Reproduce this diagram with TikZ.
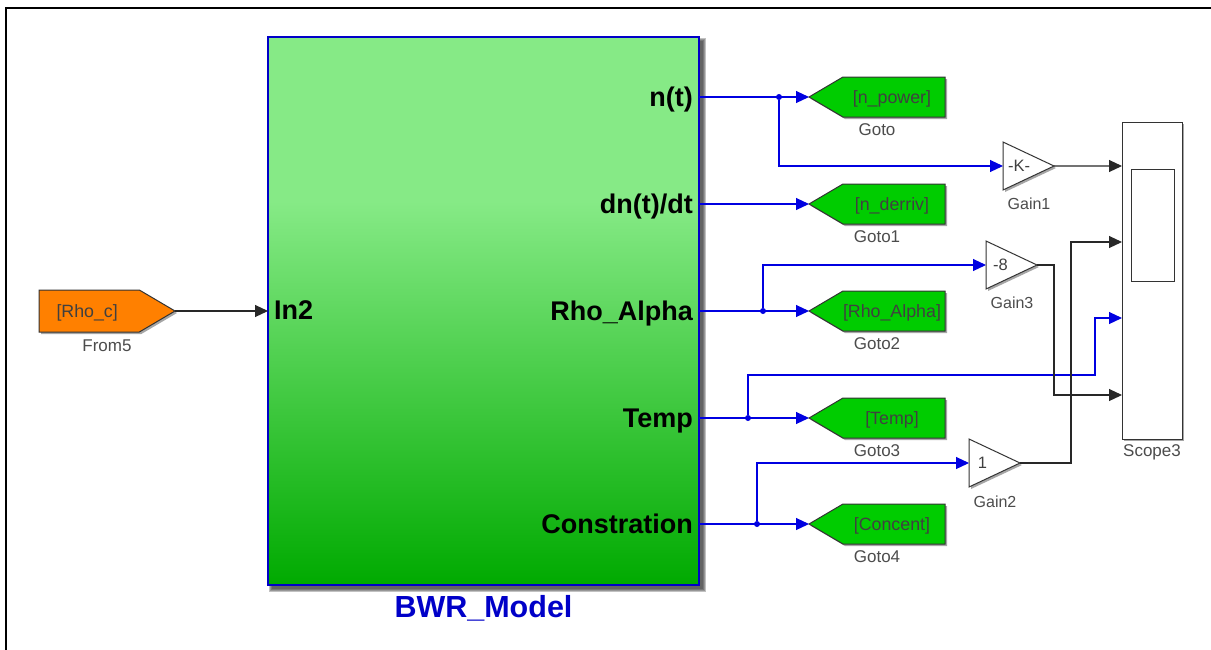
\documentclass[tikz,border=0pt]{standalone}
\usepackage{fontspec}
\setmainfont{Liberation Sans}
\usepackage{xcolor}
\usetikzlibrary{shapes.geometric,shapes.symbols,shadows,arrows.meta}
\definecolor{gotogreen}{RGB}{0,204,0}
\definecolor{fromorange}{RGB}{255,128,0}
\definecolor{linkblue}{RGB}{0,0,225}
\definecolor{namedblue}{RGB}{0,0,200}
\definecolor{linkgray}{RGB}{40,40,40}
\definecolor{modellight}{RGB}{134,234,134}
\definecolor{modeldark}{RGB}{0,170,0}
\pgfdeclareverticalshading{modelfade}{100bp}{color(0bp)=(modeldark); color(25bp)=(modeldark); color(60bp)=(modellight); color(100bp)=(modellight)}
\tikzset{
    softshadow/.style={drop shadow={shadow xshift=2pt,shadow yshift=-2pt,opacity=.35,fill=black}},
    tagbox/.style={signal,signal to=west,signal pointer angle=61,draw=black!80,line width=1pt,fill=gotogreen,
        minimum width=136pt,minimum height=40pt,inner sep=0pt,outer sep=0pt,anchor=west,softshadow,
        font=\fontsize{17.8}{20}\selectfont,text=black!75,text height=15pt,text depth=3pt,
        execute at begin node={\hspace*{-4pt}}},
    fromtag/.style={tagbox,signal to=east,anchor=east,fill=fromorange,minimum height=42pt},
    gainbox/.style={isosceles triangle,isosceles triangle apex angle=50,isosceles triangle stretches,draw=black!80,line width=1pt,
        fill=white,minimum width=48pt,minimum height=51pt,inner sep=0pt,outer sep=0pt,anchor=west,softshadow,
        font=\fontsize{16.5}{18}\selectfont,text=black!75},
    blocklabel/.style={font=\fontsize{17}{19}\selectfont,text=black!70,inner sep=0pt},
    gainlabel/.style={blocklabel,font=\fontsize{16}{18}\selectfont},
    portlabel/.style={font=\bfseries\fontsize{27}{30}\selectfont,inner sep=0pt},
    bluelink/.style={linkblue,line width=1.1pt,-{Triangle[length=13pt,width=12pt]}},
    graylink/.style={linkgray,line width=1.1pt,-{Triangle[length=13pt,width=12pt]}},
    branchdot/.style={circle,fill=linkblue,inner sep=0pt,minimum size=6pt,outer sep=0pt},
}
\begin{document}
\begin{tikzpicture}[x=1pt,y=-1pt]
    \useasboundingbox (0,0) rectangle (1211,649);
    \fill[white] (0,0) rectangle (1211,649);
    \draw[black,line width=2pt] (6,660) -- (6,8) -- (1220,8);

    % main subsystem
    \foreach \d in {7,6,5,4}{
        \fill[black!80,opacity=.3] (272-\d+4,41-\d+4) rectangle (699+\d,585+\d);
    }
    \node[draw=namedblue,line width=1.2pt,minimum width=431pt,minimum height=548pt,inner sep=0pt,outer sep=0pt,
        shading=modelfade] (model) at (483.5,311) {};
    \node[font=\bfseries\fontsize{30.5}{32}\selectfont,text=namedblue,inner sep=0pt,anchor=base] (modelname) at (483.5,617) {BWR\_Model};

    \node[portlabel,anchor=base west] (in) at (274,319.5) {In2};
    \foreach \name/\txt/\y in {p1/{n(t)}/97,p2/{dn(t)/dt}/204,p3/{Rho\_Alpha}/311,p4/{Temp}/418,p5/{Constration}/524}{
        \node[portlabel,anchor=base east] (\name) at (693,\y+9) {\txt};
        \coordinate (\name out) at (699,\y);
    }

    % tags
    \foreach \name/\txt/\y/\lab in {t1/{[n\_power]}/97/Goto,t2/{[n\_derriv]}/204/Goto1,t3/{[Rho\_Alpha]}/311/Goto2,t4/{[Temp]}/418/Goto3,t5/{[Concent]}/524/Goto4}{
        \node[tagbox] (\name) at (809,\y) {\txt};
        \node[blocklabel] (\name name) at (877,\y+33) {\lab};
    }
    \node[fromtag] (from) at (175,311) {[Rho\_c]};
    \node[blocklabel] (fromname) at (107,346) {From5};

    % gains
    \node[gainbox] (g1) at (1003,166) {-K-};
    \node[gainbox] (g3) at (986,265) {-8};
    \node[gainbox] (g2) at (969,463) {1};
    \node[gainlabel] (g1name) at (1029,204) {Gain1};
    \node[gainlabel] (g3name) at (1012,303) {Gain3};
    \node[gainlabel] (g2name) at (995,502) {Gain2};

    % scope
    \node[draw=black!80,line width=1pt,fill=white,minimum width=60pt,minimum height=317pt,inner sep=0pt,outer sep=0pt,softshadow] (scope) at (1152,280.5) {};
    \node[draw=black!80,line width=1pt,fill=white,minimum width=43pt,minimum height=112pt,inner sep=0pt,outer sep=0pt] (screen) at (1152.5,225) {};
    \node[blocklabel] (scopename) at (1152,452) {Scope3};

    % branch points
    \node[branchdot] (j1) at (779,97) {};
    \node[branchdot] (j3) at (763,311) {};
    \node[branchdot] (j4) at (748,418) {};
    \node[branchdot] (j5) at (757,524) {};

    \coordinate (s1) at (1122,166);
    \coordinate (s2) at (1122,242);
    \coordinate (s3) at (1122,318);
    \coordinate (s4) at (1122,395);

    % links
    \draw[graylink] (from.east) -- (model.west);
    \draw[bluelink] (p1out) -- (t1.west);
    \draw[bluelink] (p2out) -- (t2.west);
    \draw[bluelink] (p3out) -- (t3.west);
    \draw[bluelink] (p4out) -- (t4.west);
    \draw[bluelink] (p5out) -- (t5.west);
    \draw[bluelink] (j1) |- (g1.west);
    \draw[bluelink] (j3) |- (g3.west);
    \draw[bluelink] (j5) |- (g2.west);
    \draw[bluelink] (j4) |- (1095,375) |- (s3);
    \draw[graylink] (g1.east) -- (s1);
    \draw[graylink] (g3.east) -| (1054,395) -- (s4);
    \draw[graylink] (g2.east) -| (1071,242) -- (s2);
\end{tikzpicture}
\end{document}
